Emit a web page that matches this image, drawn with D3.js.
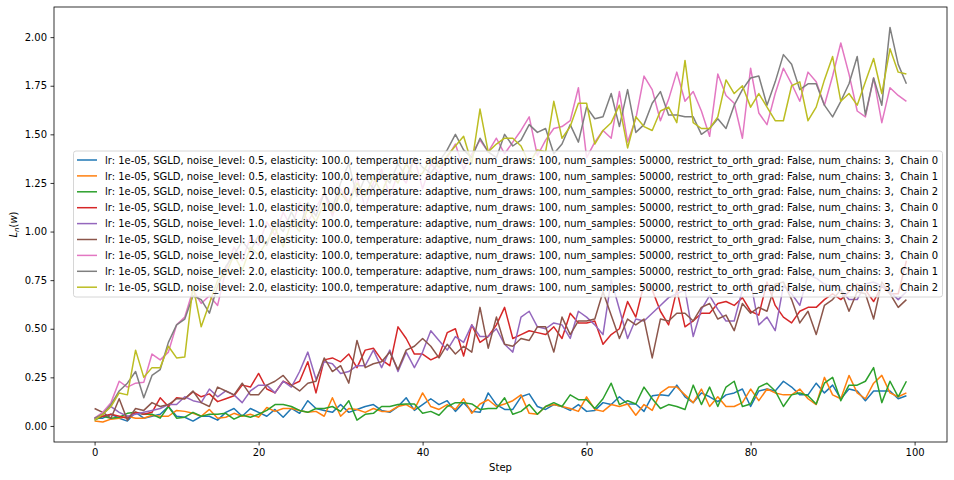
<!DOCTYPE html>
<html>
<head>
<meta charset="utf-8">
<script src="https://cdn.jsdelivr.net/npm/d3@7"></script>
<style>
  body { margin: 0; background: #fff; }
  text { font-family: "DejaVu Sans", sans-serif; }
</style>
</head>
<body>
<div id="svg"></div>
<script>
// values, one array per chain
var noise05_chain0 = [0.04,0.04,0.06,0.04,0.025,0.07,0.04,0.05,0.06,0.10,
  0.05,0.045,0.025,0.05,0.05,0.03,0.07,0.09,0.05,0.09,
  0.07,0.05,0.085,0.045,0.09,0.065,0.13,0.09,0.08,0.07,
  0.11,0.07,0.085,0.10,0.11,0.08,0.07,0.10,0.145,0.08,
  0.11,0.14,0.11,0.13,0.075,0.12,0.075,0.07,0.17,0.11,
  0.085,0.085,0.15,0.165,0.10,0.085,0.11,0.10,0.08,0.11,
  0.075,0.08,0.12,0.11,0.15,0.113,0.113,0.075,0.155,0.16,
  0.155,0.21,0.15,0.12,0.17,0.15,0.125,0.16,0.17,0.19,
  0.10,0.18,0.19,0.18,0.23,0.20,0.16,0.16,0.22,0.17,
  0.21,0.14,0.19,0.18,0.13,0.18,0.18,0.18,0.14,0.155];
var noise05_chain1 = [0.025,0.02,0.035,0.04,0.05,0.04,0.04,0.055,0.05,0.05,
  0.08,0.075,0.065,0.05,0.085,0.04,0.045,0.065,0.05,0.06,
  0.045,0.095,0.075,0.09,0.09,0.08,0.07,0.075,0.05,0.145,
  0.05,0.09,0.085,0.07,0.09,0.075,0.075,0.10,0.11,0.085,
  0.17,0.10,0.085,0.11,0.085,0.14,0.065,0.113,0.135,0.10,
  0.113,0.13,0.16,0.065,0.06,0.10,0.11,0.10,0.09,0.075,
  0.15,0.085,0.075,0.11,0.10,0.113,0.055,0.11,0.08,0.17,
  0.20,0.20,0.16,0.12,0.19,0.10,0.15,0.10,0.10,0.12,
  0.19,0.13,0.19,0.17,0.16,0.16,0.19,0.14,0.11,0.25,
  0.16,0.14,0.26,0.17,0.14,0.22,0.26,0.17,0.15,0.17];
var noise05_chain2 = [0.03,0.05,0.04,0.045,0.065,0.07,0.06,0.06,0.04,0.10,
  0.04,0.045,0.07,0.05,0.06,0.06,0.065,0.035,0.055,0.045,
  0.06,0.08,0.11,0.11,0.10,0.08,0.07,0.09,0.09,0.10,
  0.075,0.13,0.03,0.06,0.065,0.10,0.10,0.11,0.113,0.113,
  0.065,0.075,0.055,0.10,0.12,0.12,0.113,0.085,0.09,0.09,
  0.145,0.06,0.075,0.11,0.06,0.10,0.12,0.10,0.16,0.135,
  0.135,0.09,0.14,0.22,0.11,0.13,0.113,0.20,0.14,0.09,
  0.11,0.10,0.085,0.21,0.11,0.20,0.10,0.20,0.23,0.10,
  0.113,0.20,0.22,0.18,0.10,0.16,0.17,0.155,0.113,0.22,
  0.25,0.13,0.21,0.21,0.23,0.30,0.12,0.23,0.15,0.23];
var noise10_chain0 = [0.04,0.05,0.06,0.05,0.04,0.07,0.06,0.07,0.145,0.10,
  0.145,0.14,0.175,0.15,0.165,0.125,0.14,0.155,0.21,0.20,
  0.27,0.19,0.17,0.23,0.21,0.23,0.33,0.17,0.34,0.35,
  0.33,0.37,0.30,0.39,0.40,0.34,0.31,0.51,0.45,0.37,
  0.37,0.34,0.36,0.48,0.50,0.36,0.52,0.43,0.46,0.52,
  0.61,0.45,0.47,0.49,0.48,0.47,0.51,0.45,0.58,0.53,
  0.53,0.54,0.42,0.47,0.50,0.64,0.56,0.73,0.70,0.59,
  0.52,0.70,0.51,0.54,0.58,0.58,0.63,0.64,0.62,0.66,
  0.59,0.57,0.74,0.62,0.56,0.53,0.59,0.61,0.61,0.65,
  0.68,0.65,0.69,0.73,0.70,0.64,0.72,0.68,0.68,0.85];
var noise10_chain1 = [0.04,0.06,0.10,0.07,0.05,0.06,0.07,0.08,0.09,0.11,
  0.11,0.15,0.13,0.12,0.19,0.15,0.18,0.16,0.12,0.18,
  0.21,0.21,0.17,0.23,0.20,0.28,0.38,0.24,0.33,0.32,
  0.27,0.28,0.31,0.31,0.39,0.30,0.39,0.28,0.38,0.30,
  0.38,0.49,0.44,0.39,0.46,0.43,0.52,0.46,0.46,0.50,
  0.42,0.38,0.56,0.59,0.51,0.50,0.53,0.52,0.45,0.59,
  0.56,0.52,0.47,0.75,0.60,0.45,0.55,0.54,0.58,0.62,
  0.66,0.68,0.70,0.46,0.60,0.67,0.60,0.54,0.54,0.70,
  0.74,0.52,0.56,0.49,0.72,0.68,0.62,0.78,0.76,0.73,
  0.72,0.70,0.65,0.65,0.73,0.74,0.72,0.69,0.65,0.69];
var noise10_chain2 = [0.09,0.07,0.04,0.14,0.03,0.09,0.08,0.12,0.10,0.11,
  0.14,0.14,0.18,0.12,0.10,0.20,0.18,0.16,0.22,0.16,
  0.16,0.21,0.23,0.26,0.21,0.18,0.22,0.23,0.35,0.28,
  0.31,0.22,0.44,0.30,0.32,0.33,0.38,0.29,0.39,0.41,
  0.45,0.41,0.35,0.42,0.37,0.41,0.38,0.61,0.40,0.56,
  0.42,0.41,0.45,0.44,0.51,0.51,0.38,0.56,0.47,0.54,
  0.54,0.55,0.69,0.57,0.45,0.55,0.52,0.55,0.35,0.55,
  0.54,0.58,0.58,0.54,0.61,0.63,0.55,0.57,0.49,0.63,
  0.58,0.61,0.59,0.73,0.74,0.65,0.53,0.59,0.47,0.62,
  0.65,0.70,0.59,0.69,0.68,0.55,0.74,0.68,0.61,0.65];
var noise20_chain0 = [0.04,0.07,0.12,0.23,0.20,0.22,0.225,0.37,0.34,0.38,
  0.52,0.56,0.70,0.63,0.67,0.62,0.80,0.92,0.85,0.97,
  0.93,1.05,0.98,1.10,1.02,1.15,1.05,1.12,1.20,1.08,
  1.22,1.15,1.28,1.12,1.25,1.32,1.18,1.30,1.25,1.38,
  1.22,1.35,1.30,1.38,1.45,1.32,1.40,1.47,1.41,1.48,
  1.40,1.46,1.52,1.59,1.39,1.47,1.53,1.54,1.57,1.74,
  1.38,1.46,1.52,1.48,1.72,1.46,1.58,1.80,1.73,1.57,
  1.68,1.82,1.67,1.72,1.62,1.49,1.81,1.70,1.66,1.48,
  1.84,1.61,1.55,1.71,1.84,1.76,1.67,1.82,1.77,1.65,
  1.80,1.97,1.81,1.62,1.59,1.79,1.56,1.74,1.70,1.67];
var noise20_chain1 = [0.04,0.06,0.11,0.18,0.22,0.28,0.145,0.26,0.29,0.43,
  0.52,0.55,0.67,0.65,0.58,0.72,0.82,0.88,0.95,0.90,
  0.98,0.93,1.05,1.00,1.10,1.02,1.15,1.08,1.20,1.12,
  1.25,1.35,1.18,1.28,1.22,1.30,1.25,1.35,1.28,1.38,
  1.33,1.30,1.36,1.42,1.50,1.42,1.38,1.48,1.41,1.38,
  1.50,1.44,1.47,1.55,1.51,1.53,1.40,1.45,1.55,1.46,
  1.64,1.58,1.59,1.71,1.54,1.73,1.51,1.55,1.66,1.72,
  1.60,1.60,1.59,1.59,1.50,1.53,1.58,1.53,1.65,1.73,
  1.79,1.80,1.65,1.77,1.91,1.86,1.73,1.76,1.76,1.65,
  1.59,1.67,1.76,1.90,1.60,1.79,1.65,2.05,1.86,1.76];
var noise20_chain2 = [0.03,0.06,0.10,0.17,0.16,0.39,0.25,0.30,0.30,0.41,
  0.35,0.355,0.72,0.51,0.63,0.75,0.78,0.88,0.80,0.92,
  0.88,0.95,1.02,0.92,1.05,1.00,1.12,1.05,1.15,1.10,
  1.20,1.14,1.25,1.18,1.28,1.20,1.30,1.25,1.35,1.28,
  1.30,1.38,1.33,1.39,1.44,1.49,1.35,1.63,1.41,1.45,
  1.48,1.48,1.44,1.35,1.42,1.41,1.67,1.48,1.54,1.66,
  1.66,1.45,1.52,1.56,1.65,1.43,1.59,1.54,1.52,1.62,
  1.64,1.56,1.88,1.56,1.53,1.53,1.59,1.78,1.71,1.75,
  1.64,1.71,1.64,1.57,1.57,1.75,1.77,1.57,1.64,1.78,
  1.90,1.67,1.71,1.65,1.77,1.89,1.71,1.94,1.82,1.81];

var noiseLevels = ["0.5", "0.5", "0.5", "1.0", "1.0", "1.0", "2.0", "2.0", "2.0"];
var chainIds = [0, 1, 2, 0, 1, 2, 0, 1, 2];
var xTicks = [0, 20, 40, 60, 80, 100];
var yTicks = [0, 0.25, 0.5, 0.75, 1.0, 1.25, 1.5, 1.75, 2.0];

var allSeries = [noise05_chain0, noise05_chain1, noise05_chain2,
                 noise10_chain0, noise10_chain1, noise10_chain2,
                 noise20_chain0, noise20_chain1, noise20_chain2];
var colors = d3.schemeCategory10;
var steps = d3.range(noise05_chain0.length);

var labels = noiseLevels.map(function(n, i) {
  return "lr: 1e-05, SGLD, noise_level: " + n + ", elasticity: 100.0, temperature: adaptive, " +
    "num_draws: 100, num_samples: 50000, restrict_to_orth_grad: False, num_chains: 3,  Chain " + chainIds[i];
});

var w = 954;
var h = 480;
// axes box (window.top is read-only, so no bare "top" here)
var axL = 54, axR = 947, axT = 7, axB = 442;

var svg = d3.select("#svg")
  .append("svg")
  .attr("width", w)
  .attr("height", h);

// matplotlib style 5% margins around the data
var xScale = d3.scaleLinear().domain([-4.95, 103.95]).range([axL, axR]);
var yScale = d3.scaleLinear().domain([-0.0825, 2.155]).range([axB, axT]);

var line = d3.line()
  .x(function(d, i) { return xScale(steps[i]); })
  .y(function(d) { return yScale(d); });

var plot = svg.append("g");
plot.selectAll("path")
  .data(allSeries)
  .enter()
  .append("path")
  .attr("d", line)
  .attr("fill", "none")
  .attr("stroke", function(d, i) { return colors[i]; })
  .attr("stroke-width", 1.5)
  .attr("stroke-linejoin", "round");

var xAxis = d3.axisBottom(xScale)
  .tickValues(xTicks)
  .tickFormat(d3.format("d"))
  .tickSize(3.5)
  .tickPadding(3.5)
  .tickSizeOuter(0);
var yAxis = d3.axisLeft(yScale)
  .tickValues(yTicks)
  .tickFormat(d3.format(".2f"))
  .tickSize(3.5)
  .tickPadding(3.5)
  .tickSizeOuter(0);

var gx = svg.append("g")
  .attr("transform", "translate(0," + axB + ")")
  .call(xAxis);
var gy = svg.append("g")
  .attr("transform", "translate(" + axL + ",0)")
  .call(yAxis);
[gx, gy].forEach(function(g) {
  g.select(".domain").remove();
  g.selectAll("line").attr("stroke", "#000").attr("stroke-width", 0.8);
  g.selectAll("text")
    .attr("font-family", "DejaVu Sans")
    .attr("font-size", 10)
    .attr("fill", "#000");
});

// spines
svg.append("rect")
  .attr("x", axL)
  .attr("y", axT)
  .attr("width", axR - axL)
  .attr("height", axB - axT)
  .attr("fill", "none")
  .attr("stroke", "#000")
  .attr("stroke-width", 0.8);

// axis labels
svg.append("text")
  .attr("x", (axL + axR) / 2)
  .attr("y", 471)
  .attr("text-anchor", "middle")
  .attr("font-size", 10)
  .text("Step");

var ylab = svg.append("text")
  .attr("transform", "translate(17," + ((axT + axB) / 2) + ") rotate(-90)")
  .attr("text-anchor", "middle")
  .attr("font-size", 10);
ylab.append("tspan").attr("font-style", "italic").text("L");
ylab.append("tspan").attr("font-style", "italic").attr("font-size", 7).attr("dy", 2).text("n");
ylab.append("tspan").attr("dy", -2).text("(");
ylab.append("tspan").attr("font-style", "italic").text("w");
ylab.append("tspan").text(")");

// legend
var legX = 73.5, legY = 151, legW = 869, legH = 146, rowH = 15.9;
var legend = svg.append("g");
legend.append("rect")
  .attr("x", legX)
  .attr("y", legY)
  .attr("width", legW)
  .attr("height", legH)
  .attr("rx", 2.5)
  .attr("fill", "#fff")
  .attr("fill-opacity", 0.8)
  .attr("stroke", "#cccccc")
  .attr("stroke-width", 0.8);

var rows = legend.selectAll("g.row")
  .data(labels)
  .enter()
  .append("g")
  .attr("class", "row")
  .attr("transform", function(d, i) { return "translate(0," + (160 + i * rowH) + ")"; });
rows.append("line")
  .attr("x1", 77).attr("x2", 97)
  .attr("y1", 0).attr("y2", 0)
  .attr("stroke", function(d, i) { return colors[i]; })
  .attr("stroke-width", 1.5);
rows.append("text")
  .attr("x", 105)
  .attr("y", 3.6)
  .attr("font-size", 9.96)
  .attr("fill", "#000")
  .style("white-space", "pre")
  .text(function(d) { return d; });
</script>
</body>
</html>
